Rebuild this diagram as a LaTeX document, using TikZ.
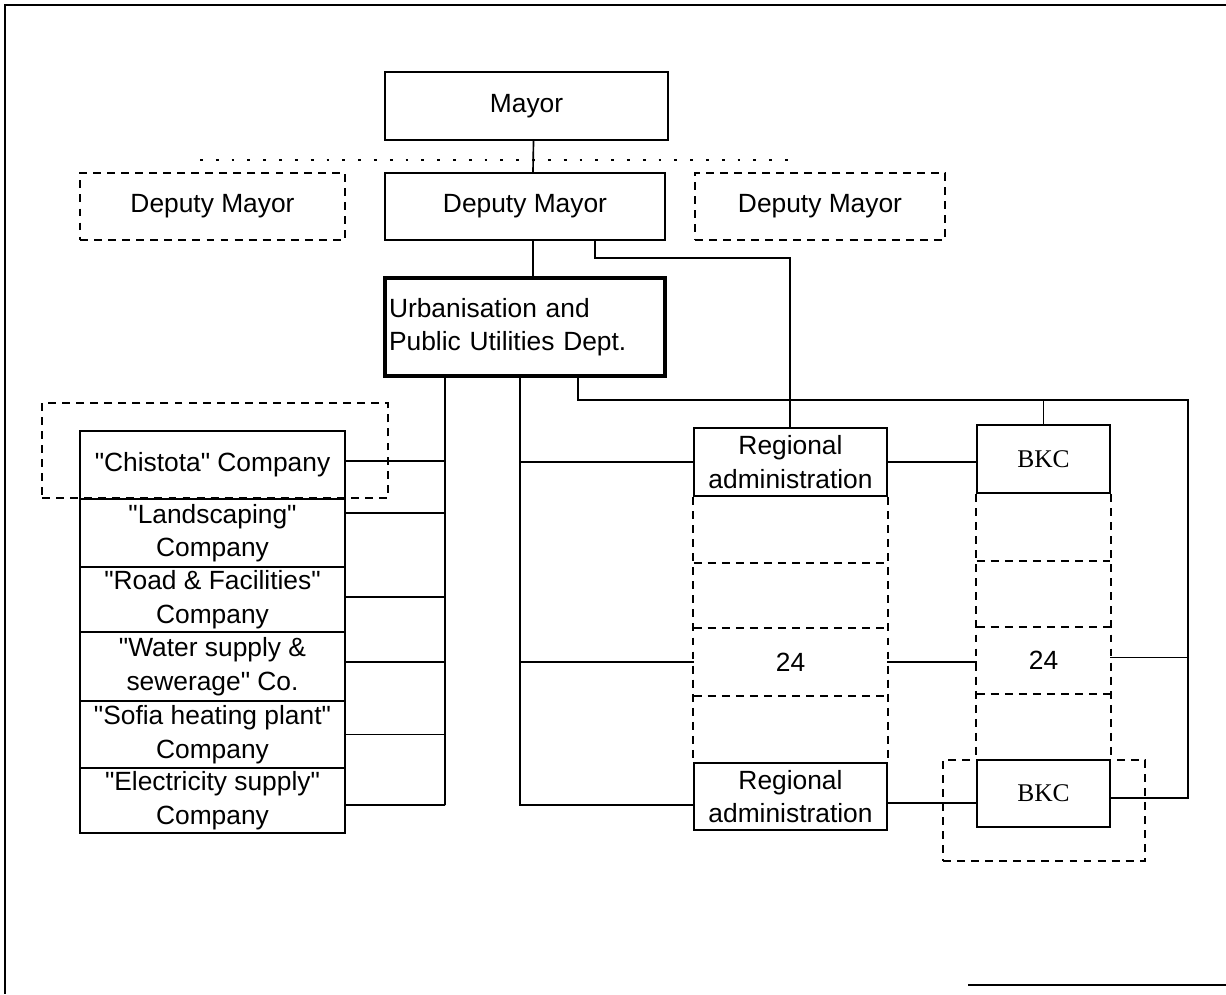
\documentclass[tikz,border=0pt]{standalone}
\usepackage{fontspec}
\setmainfont{Liberation Sans}[Ligatures=TeXOff]
\newfontfamily\bkcfont{Liberation Serif}
\begin{document}
\begin{tikzpicture}[x=0.02cm,y=-0.02cm,
  font=\fontsize{15}{19}\selectfont,
  sz/.style 2 args={minimum width=#1*0.02cm,minimum height=#2*0.02cm},
  box/.style={draw,line width=1.1pt,inner sep=0pt,align=center},
  dbox/.style={box,dash pattern=on 4.5pt off 3.5pt},
  cell/.style={inner sep=0pt,align=center},
  link/.style={line width=0.95pt},
  dline/.style={line width=1.1pt,dash pattern=on 4.5pt off 3.5pt},
  bkc/.style={box,font=\bkcfont\fontsize{14.5}{17}\selectfont},
  frameline/.style={line width=1.2pt}
  ]
\useasboundingbox (0,0) rectangle (1226,994);

% sheet border
\draw[frameline] (1226,5) -- (5,5) -- (5,994);
\draw[frameline] (968,985) -- (1226,985);

% top of the hierarchy
\node[box,sz={283}{68}] (mayor) at (526.5,106) {Mayor};
\node[dbox,sz={265}{67}] (dmL) at (212.5,206.5) {Deputy Mayor};
\node[box,sz={280}{67}] (dmC) at (525,206.5) {Deputy Mayor};
\node[dbox,sz={250}{67}] (dmR) at (820,206.5) {Deputy Mayor};
\node[box,line width=1.8pt,sz={280}{98},text width=5.44cm,align=left] (upu) at (525,327)
  {Urbanisation and\\Public Utilities Dept.};

% municipal companies
\node[dbox,sz={346}{95}] (chf) at (215,450.5) {};
\node[box,sz={265}{68}] (c1) at (212.5,465) {"Chistota" Company};
\node[box,sz={265}{68}] (c2) at (212.5,533) {"Landscaping"\\Company};
\node[box,sz={265}{65}] (c3) at (212.5,599.5) {"Road \& Facilities"\\Company};
\node[box,sz={265}{69}] (c4) at (212.5,666.5) {"Water supply \&\\sewerage" Co.};
\node[box,sz={265}{67}] (c5) at (212.5,734.5) {"Sofia heating plant"\\Company};
\node[box,sz={265}{65}] (c6) at (212.5,800.5) {"Electricity supply"\\Company};

% regional administrations
\node[box,sz={193}{68}] (ra1) at (790.5,462) {Regional\\administration};
\node[cell,sz={193}{67}] (r2) at (790.5,529.5) {};
\node[cell,sz={193}{65}] (r3) at (790.5,595.5) {};
\node[cell,sz={193}{68}] (r24) at (790.5,662) {24};
\node[cell,sz={193}{67}] (r5) at (790.5,729.5) {};
\node[box,sz={193}{67}] (ra2) at (790.5,796.5) {Regional\\administration};
\draw[dline] (ra1.south west) -- (ra2.north west);
\draw[dline] (ra1.south east) -- (ra2.north east);
\draw[dline] (r2.south west) -- (r2.south east);
\draw[dline] (r24.north west) -- (r24.north east);
\draw[dline] (r24.south west) -- (r24.south east);

% BKC column
\node[bkc,sz={133}{68}] (b1) at (1043.5,459) {BKC};
\node[cell,sz={133}{68}] (b2c) at (1043.5,527) {};
\node[cell,sz={133}{66}] (b3c) at (1043.5,594) {};
\node[cell,sz={133}{67}] (b24) at (1043.5,660.5) {24};
\node[cell,sz={133}{66}] (b5c) at (1043.5,727) {};
\node[bkc,sz={133}{67}] (b2) at (1043.5,793.5) {BKC};
\node[dbox,sz={202}{101}] (bkf) at (1044,810.5) {};
\draw[dline] (b1.south west) -- (b2.north west);
\draw[dline] (b1.south east) -- (b2.north east);
\draw[dline] (b2c.south west) -- (b2c.south east);
\draw[dline] (b24.north west) -- (b24.north east);
\draw[dline] (b24.south west) -- (b24.south east);

% connectors
\coordinate (dotL) at (200,160);
\coordinate (dotR) at (790,160);
\draw[line width=1.3pt,dash pattern=on 1.6pt off 7.4pt] (dotL) -- (dotR);
\draw[link] ([xshift=0.14cm]mayor.south) -- ([xshift=0.16cm]dmC.north);
\draw[link] ([xshift=0.16cm]dmC.south) -- ([xshift=0.16cm]upu.north);

\coordinate (dmTurn) at (790,258);
\draw[link] ([xshift=1.4cm]dmC.south) |- (dmTurn) -- (dmTurn |- ra1.north);

% company bus
\coordinate (busA) at (445,805);
\draw[link] ([xshift=-1.6cm]upu.south) -- (busA);
\draw[link] ([yshift=0.08cm]c1.east) -- ([yshift=0.08cm]c1.east -| busA);
\draw[link] ([yshift=0.4cm]c2.east) -- ([yshift=0.4cm]c2.east -| busA);
\draw[link] ([yshift=0.05cm]c3.east) -- ([yshift=0.05cm]c3.east -| busA);
\draw[link] ([yshift=0.09cm]c4.east) -- ([yshift=0.09cm]c4.east -| busA);
\draw[link] (c5.east) -- (c5.east -| busA);
\draw[link] ([yshift=-0.09cm]c6.east) -- ([yshift=-0.09cm]c6.east -| busA);

% regional bus
\coordinate (busB) at (520,805);
\draw[link] ([xshift=-0.1cm]upu.south) |- ([yshift=-0.17cm]ra2.west);
\draw[link] (ra1.west) -- (ra1.west -| busB);
\draw[link] (r24.west) -- (r24.west -| busB);

% BKC bus
\coordinate (rTop) at (1188,400);
\draw[link] ([xshift=1.06cm]upu.south) |- (rTop) |- ([yshift=-0.09cm]b2.east);
\draw[link] (b1.north) -- (b1.north |- rTop);
\draw[link] ([yshift=0.06cm]b24.east) -- ([yshift=0.06cm]b24.east -| rTop);

% regional administration to BKC
\draw[link] (ra1.east) -- (ra1.east -| b1.west);
\draw[link] (r24.east) -- (r24.east -| b24.west);
\draw[link] ([yshift=-0.13cm]ra2.east) -- ([yshift=-0.13cm]ra2.east -| b2.west);
\end{tikzpicture}
\end{document}
